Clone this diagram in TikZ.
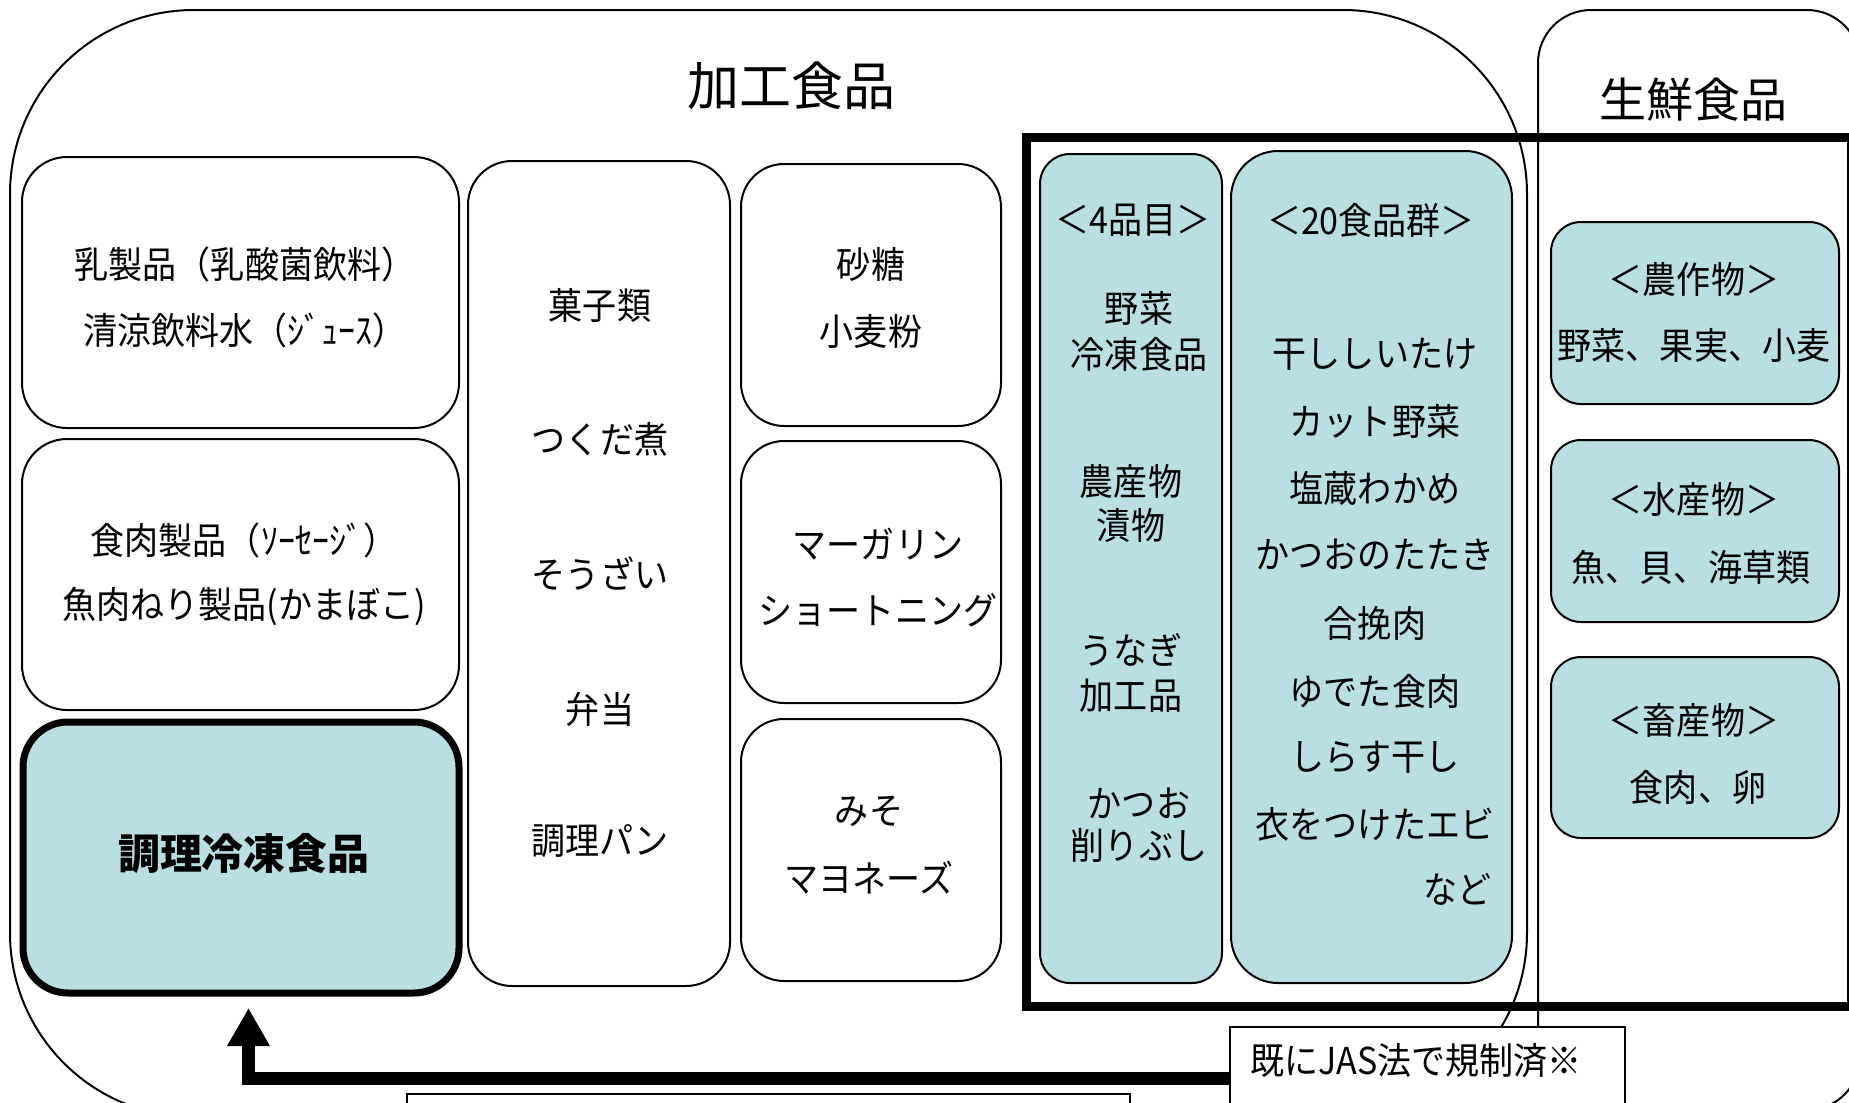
\documentclass[tikz,border=0pt]{standalone}
\usepackage{fontspec}
\setmainfont{Noto Sans CJK JP}
\newfontfamily\jp[FakeStretch=0.92]{Noto Sans CJK JP}
\usetikzlibrary{arrows.meta,fit}
\definecolor{jasblue}{HTML}{B9DFE2}
\begin{document}
\begin{tikzpicture}[x=0.5pt,y=-0.5pt,
  box/.style={draw, line width=1pt, fill=white, inner sep=0pt},
  bluebox/.style={box, fill=jasblue},
  txt/.style={font=\jp\fontsize{18.5pt}{20pt}\selectfont, inner sep=0pt},
  arr/.style={line width=6.5pt, -{Triangle[length=19pt,width=20pt]}}
]
\useasboundingbox (0,0) rectangle (1849,1103);
\clip (0,0) rectangle (1849,1103);

% outer groups
\node[draw, line width=1pt, inner sep=0pt, rounded corners=92pt, fit={(10,10) (1527,1117)}] (proc) {};
\node[draw, line width=1pt, inner sep=0pt, rounded corners=26.5pt, fit={(1538,10) (1860,1110)}] (fresh) {};
\node[font=\fontsize{26pt}{28pt}\selectfont, inner sep=0pt] (tproc) at (791,86) {加工食品};
\node[font=\fontsize{23.5pt}{26pt}\selectfont, inner sep=0pt] (tfresh) at (1693,100) {生鮮食品};

% JAS regulated frame
\node[draw, line width=4.5pt, inner sep=0pt, fit={(1026.5,137.5) (1851,1006)}] (jas) {};

% column 1
\node[box, rounded corners=22.5pt, fit={(22,157) (459,428)}] (dairy) {};
\node[box, rounded corners=22.5pt, fit={(22,439) (459,710)}] (meat) {};
\node[bluebox, line width=3.5pt, rounded corners=22.5pt, fit={(23,722) (459,993)}] (cold) {};
% column 2
\node[box, rounded corners=22pt, fit={(468,161) (730,986)}] (deli) {};
% column 3
\node[box, rounded corners=21.5pt, fit={(741,164) (1001,426)}] (sugar) {};
\node[box, rounded corners=21.5pt, fit={(741,441) (1001,703)}] (marg) {};
\node[box, rounded corners=21.5pt, fit={(741,719) (1001,981)}] (miso) {};
% JAS columns
\node[bluebox, rounded corners=15pt, fit={(1040,154) (1222,983)}] (four) {};
\node[bluebox, rounded corners=23.5pt, fit={(1231,151) (1512,983)}] (twenty) {};
% fresh boxes
\node[bluebox, rounded corners=15pt, fit={(1551,222) (1839,404)}] (agri) {};
\node[bluebox, rounded corners=15pt, fit={(1551,440) (1839,622)}] (fish) {};
\node[bluebox, rounded corners=15pt, fit={(1551,657) (1839,838)}] (live) {};

% label and bottom box
\node[box, fit={(1230,1027) (1625,1130)}] (lbl) {};
\node[txt, anchor=west] (lbltxt) at (1250,1061) {既にJAS法で規制済※};
\node[box, fit={(407,1094) (1130,1130)}] (bot) {};

% arrow
\draw[arr, shorten >=5.75pt] (lbl.west) -| ([xshift=3.75pt]cold.south);

% texts column 1
\node[txt] (a1) at (245,264) {乳製品（乳酸菌飲料）};
\node[txt] (a2) at (245,330) {清涼飲料水（ｼﾞｭｰｽ）};
\node[txt] (b1) at (244,540) {食肉製品（ｿｰｾｰｼﾞ）};
\node[txt] (b2) at (244,607) {魚肉ねり製品(かまぼこ)};
\node[font=\fontsize{21pt}{23pt}\selectfont\bfseries, inner sep=0pt] (c1) at (244,854) {調理冷凍食品};

% column 2
\foreach \t/\y [count=\i] in {菓子類/305, つくだ煮/439, そうざい/574, 弁当/709, 調理パン/841}
  \node[txt] (d\i) at (600,\y) {\t};

% column 3
\node[txt] (e1) at (871,264) {砂糖};
\node[txt] (e2) at (871,331) {小麦粉};
\node[txt] (f1) at (878,544) {マーガリン};
\node[txt] (f2) at (878,610) {ショートニング};
\node[txt] (g1) at (869,811) {みそ};
\node[txt] (g2) at (869,878) {マヨネーズ};

% 4 items
\node[txt] (h0) at (1133,220) {＜4品目＞};
\node[txt] (h1) at (1139,308) {野菜};
\node[txt] (h2) at (1139,354) {冷凍食品};
\node[txt] (h3) at (1131,481) {農産物};
\node[txt] (h4) at (1131,525) {漬物};
\node[txt] (h5) at (1131,650) {うなぎ};
\node[txt] (h6) at (1131,696) {加工品};
\node[txt] (h7) at (1139,803) {かつお};
\node[txt] (h8) at (1139,845) {削りぶし};

% 20 groups
\node[txt] (i0) at (1371,220) {＜20食品群＞};
\foreach \t/\y [count=\i] in {干ししいたけ/354, カット野菜/421, 塩蔵わかめ/488, かつおのたたき/555, 合挽肉/623, ゆでた食肉/691, しらす干し/757, 衣をつけたエビ/824}
  \node[txt] (i\i) at (1375,\y) {\t};
\node[txt, anchor=east] (i9) at (1492,889) {など};

% fresh
\node[txt] (k1) at (1694,279) {＜農作物＞};
\node[txt] (k2) at (1694,345) {野菜、果実、小麦};
\node[txt] (l1) at (1694,499) {＜水産物＞};
\node[txt] (l2) at (1691,567) {魚、貝、海草類};
\node[txt] (m1) at (1694,720) {＜畜産物＞};
\node[txt] (m2) at (1698,788) {食肉、卵};
\end{tikzpicture}
\end{document}
